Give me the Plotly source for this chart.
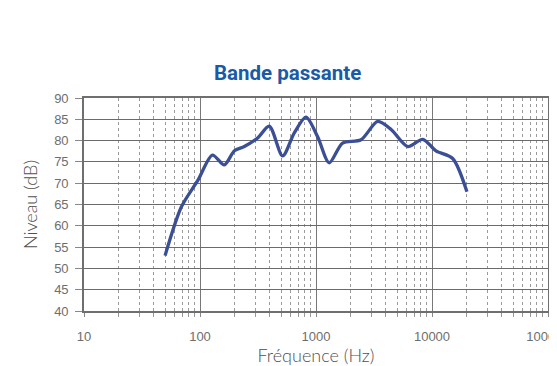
import plotly.graph_objects as go

freq_hz = [50, 69, 96, 128, 162, 198, 241, 314, 395, 516, 650, 820, 1033, 1301, 1695, 2444, 3404, 4440, 6180, 8320, 10820, 15070, 20000]
level_db = [53, 64.4, 70.7, 76.6, 74.3, 77.6, 78.6, 80.6, 83.4, 76.4, 81.8, 85.5, 80.9, 74.8, 79.4, 80.2, 84.5, 82.6, 78.6, 80.3, 77.6, 75.8, 68.0]

x_tick_vals = [10, 100, 1000, 10000, 100000]
x_tick_text = ["10", "100", "1000", "10000", "100000"]
y_tick_vals = [40, 45, 50, 55, 60, 65, 70, 75, 80, 85, 90]

fig = go.Figure()
fig.add_trace(go.Scatter(
    x=freq_hz, y=level_db, mode="lines",
    line=dict(color="#3b4f94", width=3.3, shape="spline", smoothing=0.8),
    hoverinfo="skip", showlegend=False,
))

fig.update_layout(
    width=557, height=366,
    margin=dict(l=76, r=17, t=90, b=63),
    paper_bgcolor="white", plot_bgcolor="white",
    title=dict(text="<b>Bande passante</b>", x=0.502, xanchor="center", y=0.822, yanchor="middle",
               font=dict(family="Roboto", size=20.5, color="#1a5aa6")),
)

fig.update_xaxes(
    type="log", range=[1, 5], automargin=False,
    tickvals=x_tick_vals, ticktext=x_tick_text,
    tickfont=dict(family="Liberation Sans", size=13, color="#6e6e6e"),
    ticklabelstandoff=9, ticklabeloverflow="allow",
    showgrid=True, gridcolor="#787878", gridwidth=1.3,
    minor=dict(dtick="D1", showgrid=True, gridcolor="#9a9a9a", griddash="dot", gridwidth=1,
               ticks="outside", ticklen=4, tickcolor="#999999"),
    showline=True, linecolor="#6f6f6f", linewidth=1.6, mirror=True,
    ticks="outside", ticklen=4, tickcolor="#888888",
    title=dict(text="Fréquence (Hz)", font=dict(family="Lato", size=18, color="#505050", weight=300), standoff=0),
    zeroline=False,
)
fig.update_yaxes(
    range=[40, 90], tickvals=y_tick_vals, automargin=False,
    tickfont=dict(family="Liberation Sans", size=13, color="#6e6e6e"),
    ticklabelstandoff=4,
    showgrid=True, gridcolor="#6a6a6a", gridwidth=1.3,
    showline=True, linecolor="#6f6f6f", linewidth=1.6, mirror=True,
    ticks="outside", ticklen=7, tickcolor="#888888",
    title=dict(text="Niveau (dB)", font=dict(family="Lato", size=18, color="#505050", weight=300), standoff=12),
    zeroline=False,
)

fig.write_html("out.html")
